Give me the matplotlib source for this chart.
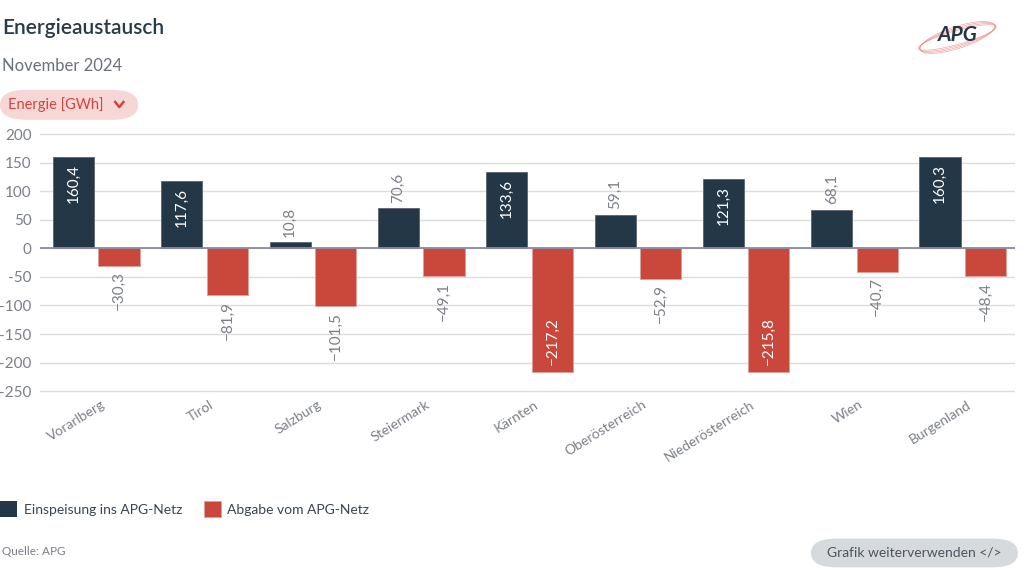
import matplotlib.pyplot as plt
from matplotlib.patches import FancyBboxPatch, Rectangle, Ellipse
from matplotlib.lines import Line2D
import numpy as np

plt.rcParams['font.family'] = ['Lato', 'DejaVu Sans']

regions = ['Vorarlberg', 'Tirol', 'Salzburg', 'Steiermark', 'Kärnten',
           'Oberösterreich', 'Niederösterreich', 'Wien', 'Burgenland']
einspeisung = [160.4, 117.6, 10.8, 70.6, 133.6, 59.1, 121.3, 68.1, 160.3]
abgabe = [-30.3, -81.9, -101.5, -49.1, -217.2, -52.9, -215.8, -40.7, -48.4]
yticks = [200, 150, 100, 50, 0, -50, -100, -150, -200, -250]

dark = '#243746'
red = '#c9473b'
grey_txt = '#7b7f86'

fig = plt.figure(figsize=(10.24, 5.76), dpi=100)
ax = fig.add_axes([0.039, 0.318, 0.952, 0.452])

x = np.arange(len(regions))
w = 0.38
b1 = ax.bar(x - w/2 - 0.0, einspeisung, w, color=dark, edgecolor='#5a6470', linewidth=0.6, zorder=3)
b2 = ax.bar(x + w/2 + 0.04, abgabe, w, color=red, edgecolor='#e0a09a', linewidth=0.6, zorder=3)

def fmt(v):
    s = ('%.1f' % abs(v)).replace('.', ',')
    return s if v >= 0 else '\u2212' + s

for bars, vals in ((b1, einspeisung), (b2, abgabe)):
    for r, v in zip(bars, vals):
        cx = r.get_x() + r.get_width() / 2
        inside = abs(v) > 110
        if v >= 0:
            if inside:
                ax.annotate(fmt(v), (cx, v), xytext=(0, -5), textcoords='offset points',
                            rotation=90, ha='center', va='top', color='white', fontsize=11, zorder=4)
            else:
                ax.annotate(fmt(v), (cx, v), xytext=(0, 4), textcoords='offset points',
                            rotation=90, ha='center', va='bottom', color=grey_txt, fontsize=11, zorder=4)
        else:
            if inside:
                ax.annotate(fmt(v), (cx, v), xytext=(0, 5), textcoords='offset points',
                            rotation=90, ha='center', va='bottom', color='white', fontsize=11, zorder=4)
            else:
                ax.annotate(fmt(v), (cx, v), xytext=(0, -4), textcoords='offset points',
                            rotation=90, ha='center', va='top', color=grey_txt, fontsize=11, zorder=4)

ax.set_xlim(-0.5, len(regions) - 0.5)
ax.set_ylim(-253, 203)
ax.set_yticks(yticks)
ax.set_yticklabels([str(t) for t in yticks])
ax.tick_params(axis='y', length=0, labelsize=11, labelcolor=grey_txt, pad=6)
ax.yaxis.grid(True, color='#dcdcdc', linewidth=1, zorder=0)
ax.axhline(0, color='#8a8a9e', linewidth=1.3, zorder=3.5)
ax.set_xticks(x + 0.06)
ax.set_xticklabels(regions, rotation=32, ha='right', rotation_mode='anchor')
ax.tick_params(axis='x', length=0, labelsize=10, labelcolor=grey_txt, pad=4)
for s in ax.spines.values():
    s.set_visible(False)

# header
fig.text(0.002, 0.951, 'Energieaustausch', fontsize=15, color='#2b3a48', va='center',
         fontweight='semibold')
fig.text(0.002, 0.885, 'November 2024', fontsize=12, color='#6b7178', va='center')
fig.patches.append(FancyBboxPatch((0.0, 0.792), 0.135, 0.052,
                                  boxstyle='round,pad=0,rounding_size=0.026',
                                  transform=fig.transFigure, facecolor='#f7d7d6', edgecolor='none'))
fig.text(0.008, 0.819, 'Energie [GWh]', fontsize=10.5, color='#d4443c', va='center')
fig.lines.append(Line2D([0.1125, 0.1165, 0.1205], [0.823, 0.814, 0.823], transform=fig.transFigure,
                        color='#d4443c', linewidth=1.8))

# logo
for i in range(4):
    fig.patches.append(Ellipse((0.935, 0.935), 0.085, 0.022 + i * 0.004, angle=28 + i * 2,
                               transform=fig.transFigure, fill=False, edgecolor='#e8847e',
                               linewidth=0.5, alpha=0.7))
fig.text(0.935, 0.94, 'APG', fontsize=15, color='#243746', ha='center', va='center',
         fontstyle='italic', fontweight='bold')

# legend
fig.patches.append(Rectangle((0.0, 0.102), 0.017, 0.028, transform=fig.transFigure,
                             facecolor=dark, edgecolor='none'))
fig.text(0.023, 0.115, 'Einspeisung ins APG-Netz', fontsize=10, color='#3a4450', va='center')
fig.patches.append(Rectangle((0.199, 0.102), 0.017, 0.028, transform=fig.transFigure,
                             facecolor=red, edgecolor='#e0a09a', linewidth=0.6))
fig.text(0.222, 0.115, 'Abgabe vom APG-Netz', fontsize=10, color='#3a4450', va='center')

fig.text(0.002, 0.042, 'Quelle: APG', fontsize=8.5, color='#7b7f86', va='center')
fig.patches.append(FancyBboxPatch((0.792, 0.015), 0.202, 0.05,
                                  boxstyle='round,pad=0,rounding_size=0.025',
                                  transform=fig.transFigure, facecolor='#d7dadd', edgecolor='none'))
fig.text(0.893, 0.04, 'Grafik weiterverwenden </>', fontsize=10, color='#4c5560',
         ha='center', va='center')

fig.savefig('out.png', dpi=100, facecolor='white')
